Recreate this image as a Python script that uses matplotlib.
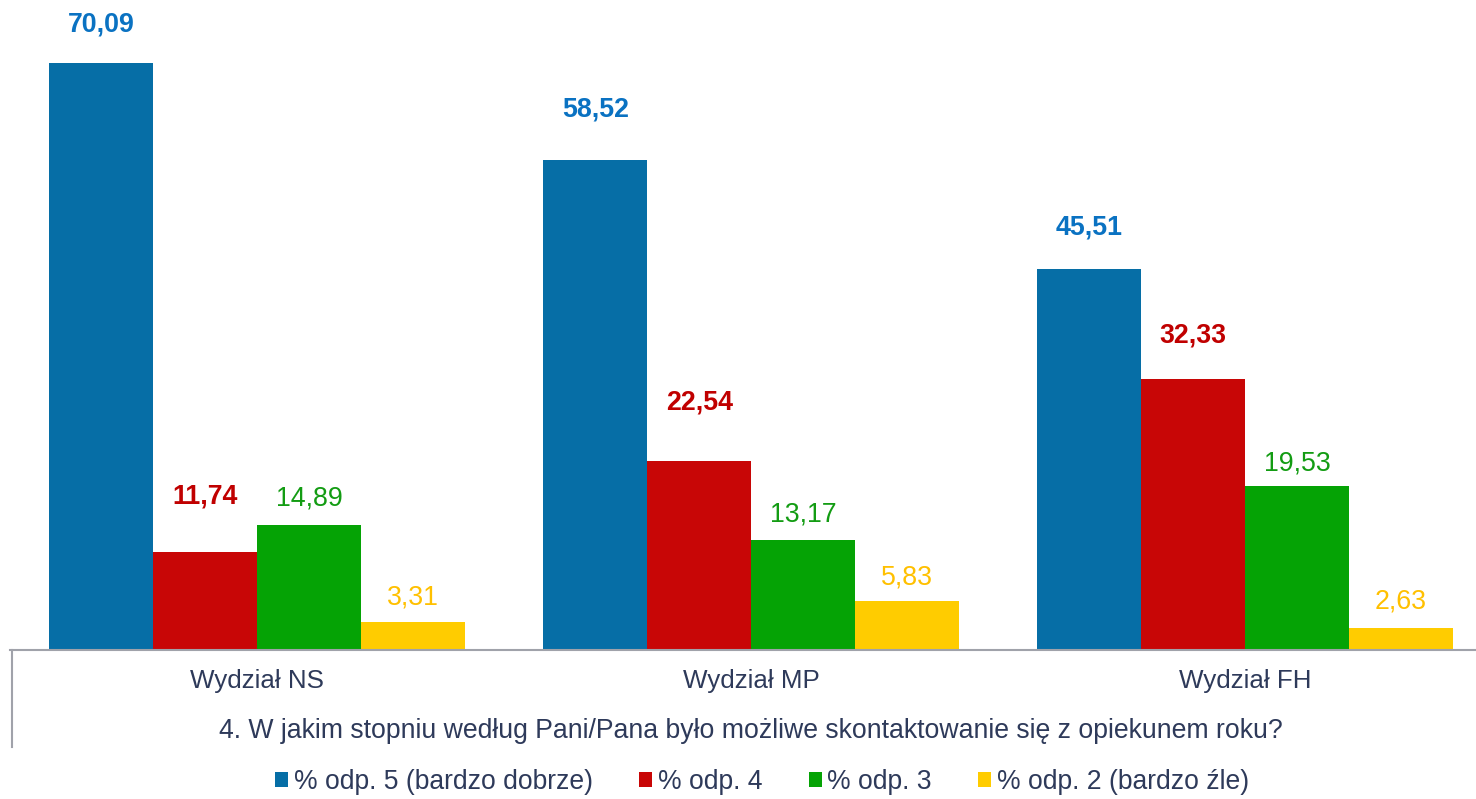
import numpy as np
import matplotlib.pyplot as plt
from matplotlib.lines import Line2D
from matplotlib.patches import Patch

plt.rcParams['font.family'] = ['Liberation Sans', 'DejaVu Sans']

# --- data ---
categories = ["Wydział NS", "Wydział MP", "Wydział FH"]
series_names = ["% odp. 5 (bardzo dobrze)", "% odp. 4", "% odp. 3", "% odp. 2 (bardzo źle)"]
odp5 = [70.09, 58.52, 45.51]
odp4 = [11.74, 22.54, 32.33]
odp3 = [14.89, 13.17, 19.53]
odp2 = [3.31, 5.83, 2.63]
title = "4. W jakim stopniu według Pani/Pana było możliwe skontaktowanie się z opiekunem roku?"

# --- style ---
bar_colors = ["#066ea6", "#c80606", "#05a305", "#ffcc00"]
label_colors = ["#0a72c2", "#c00000", "#139c13", "#ffc000"]
label_bold = [True, True, False, False]
# label offsets above bar tops (pixels), per series / category
label_offsets = [[38, 50, 41], [55, 59, 44], [27, 25, 23], [25, 24, 26]]
text_color = "#2e3a5a"
spine_color = "#a0a2aa"

W, H = 1476, 799
fig = plt.figure(figsize=(W / 100, H / 100), dpi=100)

# axes geometry in pixels (top-left origin)
px_left, px_right, px_base, px_top = 10.5, 1492.0, 650.0, 0.0
px_per_unit = 8.375
ax = fig.add_axes([px_left / W, (H - px_base) / H,
                   (px_right - px_left) / W, (px_base - px_top) / H])
ax.set_xlim(-0.5, 2.5)
ax.set_ylim(0, (px_base - px_top) / px_per_unit)

x = np.arange(len(categories))
bw = 104 / 494
all_series = [odp5, odp4, odp3, odp2]
for i, vals in enumerate(all_series):
    pos = x - 1.5 * bw + i * bw
    ax.bar(pos, vals, width=bw, color=bar_colors[i], edgecolor="none",
           label=series_names[i])
    for j, v in enumerate(vals):
        ax.annotate(f"{v:.2f}".replace(".", ","), (pos[j], v),
                    xytext=(0, label_offsets[i][j] * 0.72), textcoords="offset points",
                    ha="center", va="center", fontsize=19.3,
                    fontweight="bold" if label_bold[i] else "normal",
                    color=label_colors[i], annotation_clip=False)

for s in ["top", "right", "left"]:
    ax.spines[s].set_visible(False)
ax.spines["bottom"].set_color(spine_color)
ax.spines["bottom"].set_linewidth(1.5)
ax.set_yticks([])
ax.set_xticks(x)
ax.set_xticklabels(categories, fontsize=18.7, color=text_color)
ax.tick_params(axis="x", length=0, pad=14)

# left border line below axis
fig.add_artist(Line2D([12 / W, 12 / W], [(H - 650) / H, (H - 747) / H],
                      color=spine_color, linewidth=1.5))

fig.text(751 / W, (H - 731) / H, title, ha="center", va="center",
         fontsize=19.2, color=text_color)

handles = [Patch(facecolor=c, edgecolor="none") for c in bar_colors]
fig.legend(handles, series_names, loc="center", bbox_to_anchor=(762 / W, (H - 782) / H),
           ncol=4, frameon=False, fontsize=19.1, handlelength=0.5, handleheight=0.5,
           handletextpad=0.2, columnspacing=1.75, labelcolor=text_color)

fig.savefig("out.png", dpi=100)
